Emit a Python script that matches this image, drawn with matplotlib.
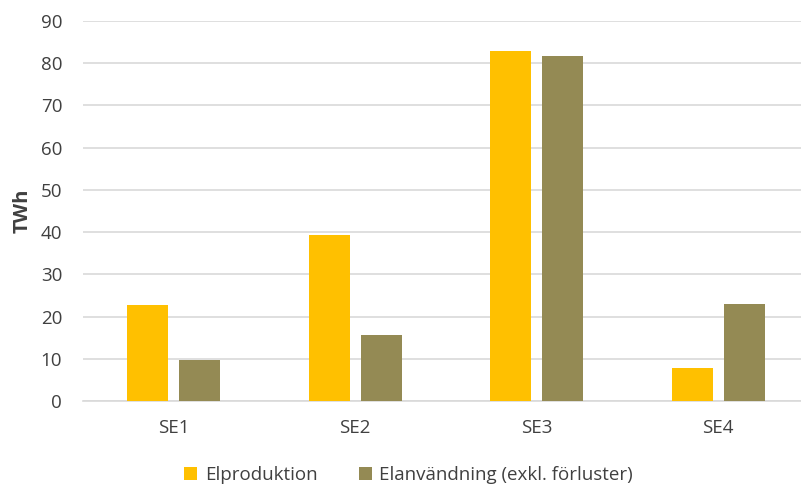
import matplotlib.pyplot as plt
import numpy as np

plt.rcParams['font.family'] = ['Open Sans', 'DejaVu Sans']

regions = ["SE1", "SE2", "SE3", "SE4"]
elproduktion = [22.8, 39.3, 82.8, 7.7]
elanvandning = [9.7, 15.6, 81.8, 23.0]
labels = ["Elproduktion", "Elanvändning (exkl. förluster)"]
yticks = [0, 10, 20, 30, 40, 50, 60, 70, 80, 90]

fig = plt.figure(figsize=(8.01, 4.86), dpi=100)
ax = fig.add_axes([83 / 801, 1 - 401 / 486, 726 / 801, 380 / 486])

x = np.arange(len(regions))
w = 0.225
ax.bar(x - 0.143, elproduktion, w, color="#FFC000", label=labels[0], zorder=3)
ax.bar(x + 0.143, elanvandning, w, color="#948A54", label=labels[1], zorder=3)

ax.set_xlim(-0.5, 3.5)
ax.set_ylim(0, 90)
ax.set_yticks(yticks)
ax.set_xticks(x)
ax.set_xticklabels(regions)
ax.grid(axis="y", color="#D9D9D9", linewidth=1.2, zorder=0)
for s in ["top", "right", "left"]:
    ax.spines[s].set_visible(False)
ax.spines["bottom"].set_color("#D9D9D9")
ax.spines["bottom"].set_linewidth(1.2)
ax.tick_params(axis="both", length=0, colors="#404040", labelsize=13.5)
ax.tick_params(axis="y", pad=15)
ax.tick_params(axis="x", pad=13)
ax.set_ylabel("TWh", fontsize=14.5, fontweight="bold", color="#404040", labelpad=6)

fig.legend(loc="lower center", bbox_to_anchor=(0.51, -0.03), ncol=2, frameon=False,
           fontsize=13.5, handlelength=0.7, handleheight=0.7, columnspacing=2.2,
           handletextpad=0.4, labelcolor="#404040")

fig.savefig("out.png", dpi=100)
